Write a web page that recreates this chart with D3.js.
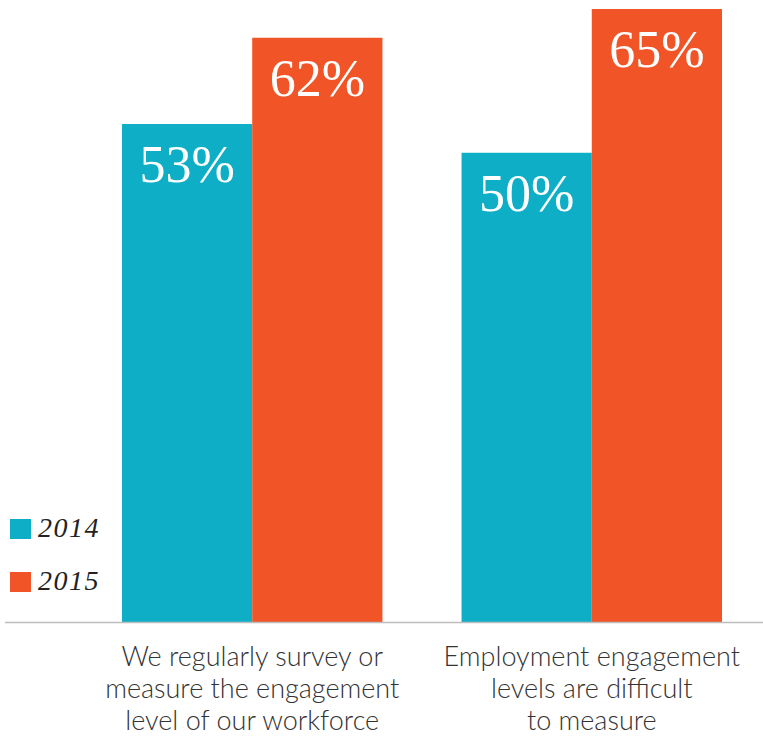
<!DOCTYPE html>
<html>
<head>
<meta charset="utf-8">
<script src="https://cdn.jsdelivr.net/npm/d3@7"></script>
<style>
  html, body { margin: 0; padding: 0; background: #fff; }
  svg { display: block; }
</style>
</head>
<body>
<svg id="chart" width="763" height="736"></svg>
<script>
// data
var categories = [
    ["We regularly survey or", "measure the engagement", "level of our workforce"],
    ["Employment engagement", "levels are difficult", "to measure"]
];
var years = ["2014", "2015"];
var values2014 = [53, 50];
var values2015 = [62, 65];
var colors = ["#0eafc6", "#f15527"];

var svg = d3.select("#chart");
var baseY = 622;

var catKeys = categories.map(function (c, i) { return "c" + i; });
var x0 = d3.scaleBand().domain(catKeys).range([122, 722]).paddingInner(0.233).paddingOuter(0);
var x1 = d3.scaleBand().domain(years).range([0, x0.bandwidth()]);
// bars in the original are not quite proportional; this range fits them best
var y = d3.scaleLinear().domain([0, 65]).range([632, 9]);
var color = d3.scaleOrdinal().domain(years).range(colors);

var rows = [];
catKeys.forEach(function (k, i) {
    rows.push({ cat: k, year: "2014", value: values2014[i] });
    rows.push({ cat: k, year: "2015", value: values2015[i] });
});

// bars
svg.append("g").selectAll("rect").data(rows).enter().append("rect")
    .attr("x", function (d) { return x0(d.cat) + x1(d.year); })
    .attr("y", function (d) { return y(d.value); })
    .attr("width", x1.bandwidth())
    .attr("height", function (d) { return baseY - y(d.value); })
    .attr("fill", function (d) { return color(d.year); });

// value labels inside bars
svg.append("g").selectAll("text").data(rows).enter().append("text")
    .attr("x", function (d) { return x0(d.cat) + x1(d.year) + x1.bandwidth() / 2; })
    .attr("y", function (d) { return y(d.value) + 58; })
    .attr("text-anchor", "middle")
    .attr("font-family", "'Liberation Serif', 'DejaVu Serif', serif")
    .attr("font-size", 52)
    .attr("fill", "#fff")
    .text(function (d) { return d.value + "%"; });

// baseline
svg.append("line")
    .attr("x1", 5).attr("x2", 763)
    .attr("y1", baseY + 0.5).attr("y2", baseY + 0.5)
    .attr("stroke", "#bdbdbd").attr("stroke-width", 1.5);

// category labels
var labels = svg.append("g").selectAll("text").data(catKeys).enter().append("text")
    .attr("text-anchor", "middle")
    .attr("font-family", "Lato, 'Noto Sans', sans-serif")
    .attr("font-weight", 300)
    .attr("font-size", 27)
    .attr("fill", "#333");
labels.each(function (k, i) {
    var t = d3.select(this);
    categories[i].forEach(function (line, j) {
        t.append("tspan")
            .attr("x", x0(k) + x0.bandwidth() / 2)
            .attr("y", 666 + j * 32)
            .text(line);
    });
});

// legend
var legend = svg.append("g").selectAll("g").data(years).enter().append("g")
    .attr("transform", function (d, i) { return "translate(10," + (519 + i * 53) + ")"; });
legend.append("rect")
    .attr("width", 21).attr("height", 20)
    .attr("fill", function (d) { return color(d); });
legend.append("text")
    .attr("x", 28).attr("y", 18)
    .attr("font-family", "'Liberation Serif', 'DejaVu Serif', serif")
    .attr("font-style", "italic")
    .attr("font-size", 28)
    .attr("letter-spacing", 1.5)
    .attr("fill", "#222")
    .text(function (d) { return d; });
</script>
</body>
</html>
